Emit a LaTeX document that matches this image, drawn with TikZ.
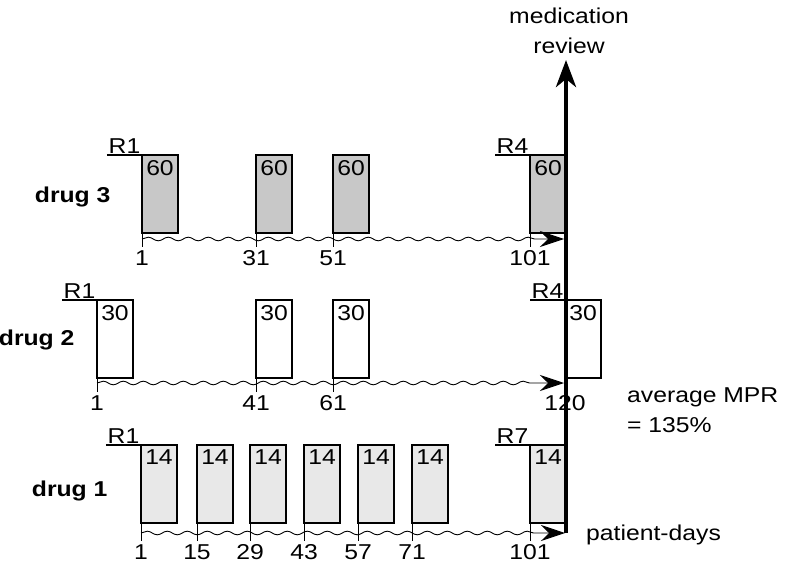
\documentclass[tikz,border=0pt]{standalone}
\usepackage{fontspec}
\setmainfont[FakeStretch=1.15]{Liberation Sans}
\usetikzlibrary{arrows.meta,positioning,calc,decorations.pathmorphing}
\definecolor{dk}{HTML}{C8C8C8}
\definecolor{lg}{HTML}{E8E8E8}
\tikzset{
  dose/.style={draw,line width=2.5pt,minimum width=36pt,minimum height=78pt,inner sep=0pt,outer sep=0pt,anchor=north west},
  dnum/.style={anchor=north,inner sep=0pt,yshift=-5pt},
  day/.style={anchor=north,inner sep=0pt,yshift=-3pt},
  rlab/.style={anchor=south east,inner sep=1.5pt},
  tick/.style={line width=0.9pt},
  uline/.style={line width=1.2pt},
  wave/.style={line width=0.9pt,decorate,decoration={snake,amplitude=1.8pt,segment length=20pt,post length=26pt},-{Stealth[length=24pt,width=16pt,inset=8pt]}},
  axis/.style={line width=4.5pt,-{Stealth[length=27pt,width=20pt,inset=8pt]}},
  drug/.style={font=\fontsize{21.5}{30}\selectfont\bfseries,anchor=base east},
}

\begin{document}
\begin{tikzpicture}[x=1pt,y=-1pt,font=\fontsize{21.5}{30}\selectfont]
\useasboundingbox (0,0) rectangle (786,567);
\coordinate (ax) at (566,533);

% drug 3
\foreach \n/\x/\d in {a/142/1,b/256/31,c/333/51,d/530/101}{
  \node[dose,fill=dk] (t\n) at (\x,155) {};
  \node[dnum] at (t\n.north) {60};
  \draw[tick] (t\n.south west) -- ++(0,14) node[day] {\d};
}
\draw[wave] ($(ta.south west)+(0,6)$) -- ($(ax |- ta.south)+(-2,6)$);
\node[rlab] (ra) at (ta.north west) {R1};
\node[rlab] (rd) at (td.north west) {R4};
\draw[uline] (ra.south west) -- (ta.north west);
\draw[uline] (rd.south west) -- (td.north west);
\node[drug] at (114,202) {drug 3};

% drug 2
\foreach \n/\x/\d in {a/97/1,b/256/41,c/333/61,d/565/120}{
  \node[dose,fill=white] (s\n) at (\x,300) {};
  \node[dnum] at (s\n.north) {30};
  \draw[tick] (s\n.south west) -- ++(0,14) node[day] {\d};
}
\draw[wave] ($(sa.south west)+(0,5)$) -- ($(ax |- sa.south)+(-2,5)$);
\node[rlab] (qa) at (sa.north west) {R1};
\node[rlab] (qd) at (sd.north west) {R4};
\draw[uline] (qa.south west) -- (sa.north west);
\draw[uline] (qd.south west) -- (sd.north west);
\node[drug] at (78,345) {drug 2};

% drug 1
\foreach \n/\x/\d in {a/141/1,b/197/15,c/250/29,e/304/43,f/358/57,g/412/71,d/530/101}{
  \node[dose,fill=lg] (u\n) at (\x,445) {};
  \node[dnum] at (u\n.north) {14};
  \draw[tick] (u\n.south west) -- ++(0,18) node[day] {\d};
}
\draw[wave] ($(ua.south west)+(0,10)$) -- ($(ax |- ua.south)+(-1,10)$);
\node[rlab] (pa) at (ua.north west) {R1};
\node[rlab] (pd) at (ud.north west) {R7};
\draw[uline] (pa.south west) -- (ua.north west);
\draw[uline] (pd.south west) -- (ud.north west);
\node[drug] at (111,496) {drug 1};

% review axis and notes
\node[align=center,anchor=south,inner sep=0pt] (rev) at (569,54) {medication\\review};
\draw[axis] (ax) -- ($(ax |- rev.south)+(0,6)$);
\node[align=left,anchor=north west,inner sep=0pt] (mpr) at (627,388) {average MPR\\= 135\%};
\node[anchor=base west,inner sep=0pt] (pdays) at (586,540) {patient-days};
\end{tikzpicture}
\end{document}
